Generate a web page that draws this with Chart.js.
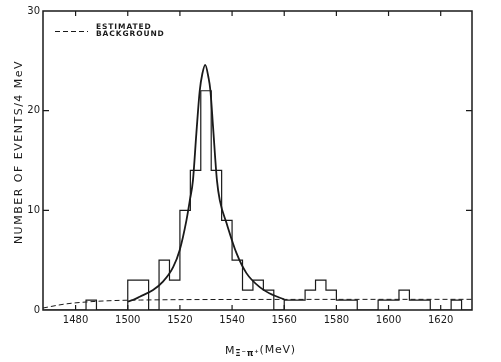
<!DOCTYPE html>
<html><head><meta charset="utf-8">
<script src="https://cdn.jsdelivr.net/npm/chart.js@4"></script>
<style>html,body{margin:0;padding:0;background:#fff}#wrap{width:501px;height:362px;position:relative}</style>
</head><body><div id="wrap"><canvas id="c"></canvas></div>
<script>
// Histogram: left edges of 4 MeV bins and number of events in each
const binStart = [1468,1472,1476,1480,1484,1488,1492,1496,1500,1504,1508,1512,1516,1520,1524,1528,1532,1536,1540,1544,1548,1552,1556,1560,1564,1568,1572,1576,1580,1584,1588,1592,1596,1600,1604,1608,1612,1616,1620,1624,1628];
const binEnd = 1632;
const counts   = [0,0,0,0,1,0,0,0,3,3,0,5,3,10,14,22,14,9,5,2,3,2,0,1,1,2,3,2,1,1,0,0,1,1,2,1,1,0,0,1,0];
// Fitted resonance curve
const fitMass   = [1500,1501.9,1504.6,1509.7,1513.5,1517.4,1519.9,1522.5,1523.8,1525.0,1526.3,1527.6,1528.6,1529.7,1530.9,1531.7,1532.7,1534.2,1535.3,1537.9,1541.7,1545.5,1550.6,1555.7,1560];
const fitEvents = [0.85,1.0,1.33,2.0,2.84,4.3,6.0,9.0,11,13,17.7,22,23.7,24.6,23.4,22,18.4,13,11,8.7,5.7,3.7,2.3,1.5,1.07];
// Estimated background (dashed)
const bgMass   = [1467.5,1476,1485,1495,1505,1530,1632];
const bgEvents = [0.2,0.6,0.82,0.95,1.0,1.05,1.07];
// Axes
const xMin = 1467.5, xMax = 1632;
const xTicks = [1480,1500,1520,1540,1560,1580,1600,1620];
const yTicks = [0,10,20,30];
const yTitle = 'NUMBER OF EVENTS/4 MeV';
const xTitleMain = 'M', xTitleSub = 'Ξ⁻π⁺', xTitleUnit = '(MeV)';
const legendLines = ['ESTIMATED','BACKGROUND'];

const INK = '#1a1a1a';
const FONT = 'DejaVu Sans';

const histData = binStart.map((x,i)=>({x, y: counts[i]})).concat([{x: binEnd, y: 0}]);
const fitData = fitMass.map((x,i)=>({x, y: fitEvents[i]}));
const bgData = bgMass.map((x,i)=>({x, y: bgEvents[i]}));

const framePlugin = {
  id: 'frame',
  afterDatasetsDraw(chart) {
    const {ctx, chartArea: a, scales: {x, y}} = chart;
    ctx.save();
    ctx.strokeStyle = INK;
    ctx.lineWidth = 1.5;
    ctx.strokeRect(a.left, a.top, a.right - a.left, a.bottom - a.top);
    ctx.lineWidth = 1.2;
    ctx.beginPath();
    xTicks.forEach(v => {
      const px = x.getPixelForValue(v);
      ctx.moveTo(px, a.top); ctx.lineTo(px, a.top + 5);
      ctx.moveTo(px, a.bottom); ctx.lineTo(px, a.bottom - 5);
    });
    yTicks.slice(1, -1).forEach(v => {
      const py = y.getPixelForValue(v);
      ctx.moveTo(a.left, py); ctx.lineTo(a.left + 6, py);
      ctx.moveTo(a.right, py); ctx.lineTo(a.right - 6, py);
    });
    ctx.stroke();

    // legend
    ctx.lineWidth = 1;
    ctx.setLineDash([5, 3]);
    ctx.beginPath();
    ctx.moveTo(a.left + 12, a.top + 20.5);
    ctx.lineTo(a.left + 45, a.top + 20.5);
    ctx.stroke();
    ctx.setLineDash([]);
    ctx.fillStyle = INK;
    ctx.font = 'bold 7.5px "' + FONT + '"';
    ctx.letterSpacing = '0.9px';
    ctx.textBaseline = 'middle';
    ctx.textAlign = 'left';
    ctx.fillText(legendLines[0], a.left + 53, a.top + 16.5);
    ctx.fillText(legendLines[1], a.left + 53, a.top + 23.5);

    // y title
    ctx.font = '11px "' + FONT + '"';
    ctx.letterSpacing = '1.5px';
    ctx.save();
    ctx.translate(19, 152);
    ctx.rotate(-Math.PI / 2);
    ctx.textAlign = 'center';
    ctx.fillText(yTitle, 0, 0);
    ctx.restore();

    // x title
    ctx.letterSpacing = '0.8px';
    let cx = 225, cy = 351;
    ctx.font = '11px "' + FONT + '"';
    ctx.textAlign = 'left';
    ctx.fillText(xTitleMain, cx, cy);
    cx += ctx.measureText(xTitleMain).width;
    ctx.font = 'bold 8.5px "' + FONT + '"';
    ctx.fillText(xTitleSub, cx, cy + 2.5);
    cx += ctx.measureText(xTitleSub).width;
    ctx.font = '11px "' + FONT + '"';
    ctx.fillText(xTitleUnit, cx, cy - 1);
    ctx.restore();
  }
};

new Chart(document.getElementById('c'), {
  type: 'line',
  data: {
    datasets: [
      { label: 'Events', data: histData, stepped: true, borderColor: INK, borderWidth: 1.2, pointRadius: 0, fill: false },
      { label: 'Fit', data: fitData, cubicInterpolationMode: 'monotone', borderColor: INK, borderWidth: 1.8, pointRadius: 0, fill: false },
      { label: 'Estimated background', data: bgData, cubicInterpolationMode: 'monotone', borderColor: INK, borderWidth: 1, borderDash: [5, 3], pointRadius: 0, fill: false }
    ]
  },
  options: {
    responsive: true,
    maintainAspectRatio: false,
    animation: false,
    layout: { padding: { top: 11, right: 29, bottom: 0, left: 0 } },
    plugins: { legend: { display: false }, tooltip: { enabled: false } },
    scales: {
      x: {
        type: 'linear', min: xMin, max: xMax,
        grid: { display: false, drawTicks: false },
        border: { display: false },
        afterBuildTicks: s => { s.ticks = xTicks.map(v => ({ value: v })); },
        afterFit: s => { s.height = 52; },
        ticks: { padding: 4, maxRotation: 0, autoSkip: false, color: INK, font: { family: FONT, size: 10 }, callback: v => String(v) }
      },
      y: {
        type: 'linear', min: 0, max: 30,
        grid: { display: false, drawTicks: false },
        border: { display: false },
        afterBuildTicks: s => { s.ticks = yTicks.map(v => ({ value: v })); },
        afterFit: s => { s.width = 43; },
        ticks: { padding: 3, color: INK, font: { family: FONT, size: 10 }, callback: v => String(v) }
      }
    }
  },
  plugins: [framePlugin]
});
</script>
</body></html>
